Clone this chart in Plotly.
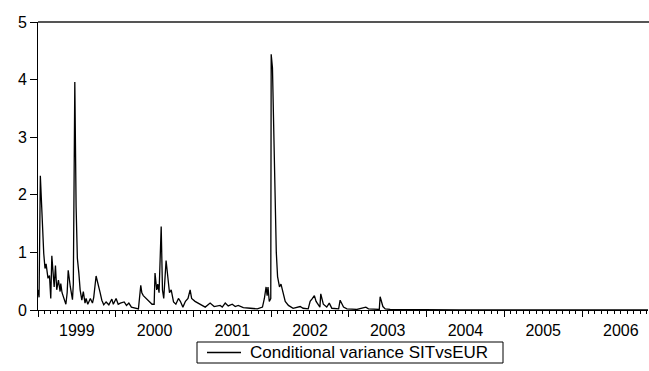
import plotly.graph_objects as go

# Conditional variance SITvsEUR
dates = [
    "1999-01-01", "1999-01-06", "1999-01-12", "1999-01-24", "1999-01-28", "1999-02-03",
    "1999-02-08", "1999-02-17", "1999-02-24", "1999-03-02", "1999-03-07", "1999-03-18",
    "1999-03-24", "1999-03-30", "1999-04-07", "1999-04-15", "1999-04-18", "1999-04-24",
    "1999-05-05", "1999-05-12", "1999-05-18", "1999-05-23", "1999-06-02", "1999-06-12",
    "1999-06-16", "1999-06-23", "1999-06-29", "1999-07-05", "1999-07-12", "1999-07-18",
    "1999-07-26", "1999-08-02", "1999-08-10", "1999-08-15", "1999-08-23", "1999-09-04",
    "1999-09-14", "1999-09-20", "1999-10-01", "1999-10-15", "1999-10-20", "1999-10-28",
    "1999-11-06", "1999-11-17", "1999-11-30", "1999-12-14", "1999-12-21", "2000-01-03",
    "2000-01-13", "2000-01-23", "2000-02-10", "2000-02-21", "2000-03-03", "2000-03-15",
    "2000-04-01", "2000-04-17", "2000-04-28", "2000-05-03", "2000-05-10", "2000-05-23",
    "2000-06-06", "2000-06-20", "2000-06-30", "2000-07-04", "2000-07-12", "2000-07-17",
    "2000-07-23", "2000-08-02", "2000-08-08", "2000-08-14", "2000-08-25", "2000-09-04",
    "2000-09-10", "2000-09-18", "2000-09-29", "2000-10-10", "2000-10-22", "2000-10-31",
    "2000-11-12", "2000-11-24", "2000-12-06", "2000-12-16", "2000-12-23", "2001-01-08",
    "2001-02-01", "2001-02-25", "2001-03-20", "2001-04-08", "2001-05-06", "2001-05-16",
    "2001-05-30", "2001-06-13", "2001-07-02", "2001-07-16", "2001-07-30", "2001-08-23",
    "2001-09-25", "2001-10-28", "2001-11-21", "2001-11-30", "2001-12-08", "2001-12-13",
    "2001-12-17", "2001-12-23", "2001-12-30", "2002-01-01", "2002-01-07", "2002-01-12",
    "2002-01-25", "2002-01-31", "2002-02-09", "2002-02-16", "2002-02-25", "2002-03-08",
    "2002-03-23", "2002-04-14", "2002-05-17", "2002-05-31", "2002-06-24", "2002-07-03",
    "2002-07-14", "2002-07-23", "2002-07-31", "2002-08-11", "2002-08-18", "2002-08-22",
    "2002-09-03", "2002-09-19", "2002-10-01", "2002-10-13", "2002-11-14", "2002-11-21",
    "2002-12-07", "2002-12-23", "2003-02-08", "2003-03-22", "2003-04-03", "2003-05-24",
    "2003-05-28", "2003-06-10", "2003-06-21", "2003-07-14", "2003-10-01", "2004-01-15",
    "2004-06-01", "2004-11-01", "2005-04-01", "2005-09-01", "2006-02-01", "2006-07-01",
    "2006-11-07",
]
variance = [
    0.35, 0.22, 2.33, 1.04, 0.98, 0.72,
    0.80, 0.55, 0.60, 0.20, 0.94, 0.40,
    0.77, 0.35, 0.52, 0.32, 0.46, 0.30,
    0.17, 0.10, 0.30, 0.69, 0.40, 0.18,
    0.45, 3.96, 1.80, 0.90, 0.64, 0.35,
    0.17, 0.32, 0.12, 0.20, 0.10, 0.20,
    0.12, 0.22, 0.59, 0.40, 0.30, 0.17,
    0.09, 0.14, 0.09, 0.19, 0.10, 0.20,
    0.10, 0.12, 0.14, 0.08, 0.12, 0.05,
    0.04, 0.02, 0.43, 0.30, 0.25, 0.20,
    0.15, 0.10, 0.10, 0.64, 0.35, 0.45,
    0.30, 1.45, 0.35, 0.20, 0.86, 0.45,
    0.30, 0.35, 0.14, 0.10, 0.20, 0.15,
    0.05, 0.15, 0.20, 0.35, 0.20, 0.15,
    0.10, 0.05, 0.12, 0.06, 0.08, 0.05,
    0.12, 0.07, 0.10, 0.06, 0.08, 0.04,
    0.03, 0.02, 0.05, 0.20, 0.40, 0.25,
    0.40, 0.15, 0.20, 4.44, 4.20, 3.12,
    1.00, 0.58, 0.40, 0.45, 0.30, 0.15,
    0.08, 0.03, 0.06, 0.03, 0.02, 0.15,
    0.20, 0.25, 0.15, 0.08, 0.05, 0.28,
    0.10, 0.05, 0.12, 0.03, 0.02, 0.17,
    0.05, 0.02, 0.01, 0.05, 0.02, 0.01,
    0.23, 0.06, 0.02, 0.01, 0.006, 0.004,
    0.003, 0.003, 0.002, 0.002, 0.002, 0.002,
    0.002,
]
series_name = "Conditional variance SITvsEUR"
y_ticks = [0, 1, 2, 3, 4, 5]

FONT = "Liberation Sans, Arial, sans-serif"
W, H = 649, 371
ML, MR, MT, MB = 38, 1, 22, 61
PW, PH = W - ML - MR, H - MT - MB


def px_x(px):
    return (px - ML) / PW


def px_y(py):
    return (H - MB - py) / PH


fig = go.Figure()
fig.add_trace(go.Scatter(
    x=dates, y=variance, mode="lines", name=series_name,
    line=dict(color="black", width=1.3), showlegend=False,
))

fig.update_layout(
    width=W, height=H,
    margin=dict(l=ML, r=MR, t=MT, b=MB),
    paper_bgcolor="white", plot_bgcolor="white",
    font=dict(family=FONT, size=16, color="black"),
    showlegend=False,
    xaxis=dict(
        type="date",
        range=["1999-01-01", "2006-11-07"],
        tick0="1999-01-01", dtick="M12",
        ticklabelmode="period",
        tickformat="%Y",
        ticks="outside", ticklen=6, tickcolor="black", tickwidth=1,
        minor=dict(dtick="M1", ticks="outside", ticklen=3, tickcolor="black", tickwidth=1),
        showline=True, linecolor="black", linewidth=1,
        showgrid=False, zeroline=False, automargin=False,
        tickfont=dict(family=FONT, size=16),
    ),
    yaxis=dict(
        range=[0, 5],
        tickvals=y_ticks,
        ticks="outside", ticklen=7, tickcolor="black", tickwidth=1,
        showline=True, linecolor="black", linewidth=1,
        showgrid=False, zeroline=False, automargin=False,
        tickfont=dict(family=FONT, size=16),
    ),
)

# gray top frame line
fig.add_shape(type="line", xref="paper", yref="paper", x0=0, x1=1.01, y0=1, y1=1,
              line=dict(color="#555555", width=2))

# legend box (drawn below the plot, as in the original)
fig.add_shape(type="rect", xref="paper", yref="paper",
              x0=px_x(197), x1=px_x(503), y0=px_y(363), y1=px_y(342),
              line=dict(color="black", width=1), fillcolor="white")
fig.add_shape(type="line", xref="paper", yref="paper",
              x0=px_x(207), x1=px_x(241), y0=px_y(352.5), y1=px_y(352.5),
              line=dict(color="black", width=1.3))
fig.add_annotation(xref="paper", yref="paper", x=px_x(248), y=px_y(352.5),
                   xanchor="left", yanchor="middle", showarrow=False,
                   text=series_name, font=dict(family=FONT, size=17, color="black"))

fig.write_html("out.html")
